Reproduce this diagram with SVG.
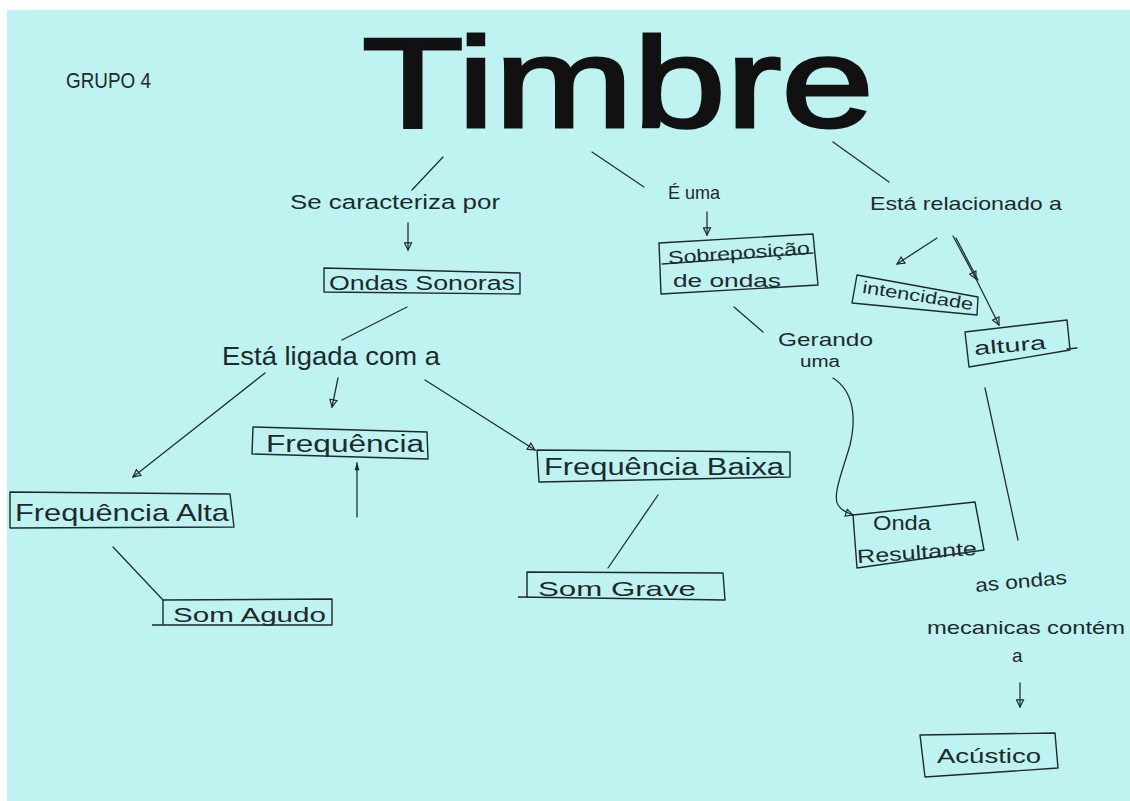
<svg xmlns="http://www.w3.org/2000/svg" width="1130" height="801" viewBox="0 0 1130 801">
<style>
.hw{font-family:"Liberation Sans","DejaVu Sans",sans-serif;fill:#1d2a2a;}
.bx{fill:none;stroke:#1d2a2a;stroke-width:1.4;stroke-linejoin:round;}
.ln{fill:none;stroke:#233030;stroke-width:1.3;stroke-linecap:round;}
.ar{marker-end:url(#tri);}
</style>
<defs>
<marker id="tri" viewBox="0 0 10 10" refX="9" refY="5" markerWidth="9" markerHeight="9" markerUnits="userSpaceOnUse" orient="auto">
<path d="M1,1 L9,5 L1,9 z" fill="none" stroke="#1d2a2a" stroke-width="1.3"/>
</marker>
<marker id="triF" viewBox="0 0 10 10" refX="9" refY="5" markerWidth="14" markerHeight="8" markerUnits="userSpaceOnUse" orient="auto">
<path d="M0,2 L10,5 L0,8 z" fill="#1d2a2a"/>
</marker>
</defs>
<rect x="0" y="0" width="1130" height="801" fill="#ffffff"/>
<rect x="7" y="10" width="1123" height="791" fill="#bff3f2"/>

<g id="title">
<text class="hw" x="362" y="127" font-size="128" textLength="512" lengthAdjust="spacingAndGlyphs" style="fill:#111" stroke="#111" stroke-width="3">Timbre</text>
</g>
<g id="grupo">
<text class="hw" x="66" y="88" font-size="22" textLength="85" lengthAdjust="spacingAndGlyphs">GRUPO 4</text>
</g>

<g id="connectors">
<line class="ln" x1="443" y1="157" x2="412" y2="190"/>
<line class="ln ar" x1="408" y1="223" x2="408" y2="250"/>
<line class="ln" x1="407" y1="307" x2="342" y2="340"/>
<line class="ln ar" x1="265" y1="373" x2="133" y2="477"/>
<line class="ln ar" x1="338" y1="378" x2="332" y2="407"/>
<line class="ln ar" x1="425" y1="380" x2="535" y2="450"/>
<line class="ln" x1="357" y1="517" x2="357" y2="463" marker-end="url(#triF)"/>
<line class="ln" x1="113" y1="547" x2="163" y2="600"/>
<line class="ln" x1="658" y1="495" x2="608" y2="568"/>
<line class="ln" x1="592" y1="152" x2="644" y2="187"/>
<line class="ln ar" x1="707" y1="212" x2="707" y2="235"/>
<line class="ln" x1="734" y1="307" x2="763" y2="332"/>
<path class="ln ar" d="M833,378 C855,392 856,420 850,445 C843,470 832,495 838,505 C842,511 847,513 853,515"/>
<line class="ln" x1="833" y1="142" x2="889" y2="182"/>
<line class="ln ar" x1="937" y1="238" x2="897" y2="264"/>
<polyline class="ln ar" points="953,236 976,279 999,325" marker-mid="url(#tri)"/>
<line class="ln" x1="956" y1="238" x2="978" y2="280"/>
<line class="ln" x1="985" y1="388" x2="1018" y2="540"/>
<line class="ln ar" x1="1020" y1="683" x2="1020" y2="707"/>
</g>

<g id="se-caracteriza">
<text class="hw" x="290" y="209" font-size="20" textLength="210" lengthAdjust="spacingAndGlyphs">Se caracteriza por</text>
</g>
<g id="ondas-sonoras">
<polygon class="bx" points="324,268 520,273 520,294 324,292"/>
<text class="hw" x="329" y="290" font-size="20" textLength="186" lengthAdjust="spacingAndGlyphs">Ondas Sonoras</text>
</g>
<g id="esta-ligada">
<text class="hw" x="222" y="365" font-size="25" textLength="218" lengthAdjust="spacingAndGlyphs">Está ligada com a</text>
</g>
<g id="frequencia">
<polygon class="bx" points="253,427 427,432 428,459 252,454"/>
<text class="hw" x="266" y="452" font-size="23" textLength="158" lengthAdjust="spacingAndGlyphs">Frequência</text>
</g>
<g id="frequencia-alta">
<polygon class="bx" points="10,492 230,494 234,527 10,528"/>
<text class="hw" x="15" y="521" font-size="24" textLength="214" lengthAdjust="spacingAndGlyphs">Frequência Alta</text>
</g>
<g id="som-agudo">
<polyline class="bx" points="163,625 163,600 332,599 332,625 152,625"/>
<text class="hw" x="173" y="622" font-size="21" textLength="153" lengthAdjust="spacingAndGlyphs">Som Agudo</text>
</g>
<g id="frequencia-baixa">
<polygon class="bx" points="537,450 790,452 790,477 539,482"/>
<text class="hw" x="544" y="475" font-size="23" textLength="240" lengthAdjust="spacingAndGlyphs">Frequência Baixa</text>
</g>
<g id="som-grave">
<polyline class="bx" points="527,598 527,572 723,573 725,600 518,597"/>
<text class="hw" x="538" y="596" font-size="21" textLength="158" lengthAdjust="spacingAndGlyphs">Som Grave</text>
</g>
<g id="e-uma">
<text class="hw" x="668" y="199" font-size="19" textLength="52" lengthAdjust="spacingAndGlyphs">É uma</text>
</g>
<g id="sobreposicao">
<polygon class="bx" points="659,243 813,234 818,285 661,294"/>
<line class="ln" x1="662" y1="264" x2="813" y2="253"/>
<text class="hw" x="668" y="259" font-size="18" textLength="142" lengthAdjust="spacingAndGlyphs" transform="rotate(-4 740 254)">Sobreposição</text>
<text class="hw" x="673" y="287" font-size="19" textLength="108" lengthAdjust="spacingAndGlyphs">de ondas</text>
</g>
<g id="gerando">
<text class="hw" x="778" y="346" font-size="19" textLength="95" lengthAdjust="spacingAndGlyphs">Gerando</text>
<text class="hw" x="800" y="367" font-size="16" textLength="40" lengthAdjust="spacingAndGlyphs">uma</text>
</g>
<g id="onda-resultante">
<polygon class="bx" points="853,515 975,502 984,550 857,568"/>
<text class="hw" x="873" y="530" font-size="20" textLength="58" lengthAdjust="spacingAndGlyphs">Onda</text>
<text class="hw" x="857" y="559" font-size="19" textLength="120" lengthAdjust="spacingAndGlyphs" transform="rotate(-4 917 553)">Resultante</text>
</g>
<g id="esta-relacionado">
<text class="hw" x="870" y="210" font-size="19" textLength="192" lengthAdjust="spacingAndGlyphs">Está relacionado a</text>
</g>
<g id="intencidade">
<polygon class="bx" points="857,275 978,297 977,315 852,303"/>
<text class="hw" x="862" y="301" font-size="17" textLength="112" lengthAdjust="spacingAndGlyphs" transform="rotate(9 915 295)">intencidade</text>
</g>
<g id="altura">
<polygon class="bx" points="965,332 1067,320 1070,350 969,367"/>
<line class="ln" x1="1067" y1="349" x2="1077" y2="348"/>
<text class="hw" x="974" y="352" font-size="19" textLength="72" lengthAdjust="spacingAndGlyphs" transform="rotate(-5 1010 345)">altura</text>
</g>
<g id="ondas-mecanicas">
<text class="hw" x="975" y="588" font-size="19" textLength="92" lengthAdjust="spacingAndGlyphs" transform="rotate(-5 1020 582)">as ondas</text>
<text class="hw" x="927" y="634" font-size="19" textLength="198" lengthAdjust="spacingAndGlyphs">mecanicas contém</text>
<text class="hw" x="1012" y="662" font-size="19">a</text>
</g>
<g id="acustico">
<polygon class="bx" points="920,735 1055,733 1058,768 925,777"/>
<text class="hw" x="937" y="763" font-size="20" textLength="104" lengthAdjust="spacingAndGlyphs">Acústico</text>
</g>
</svg>
